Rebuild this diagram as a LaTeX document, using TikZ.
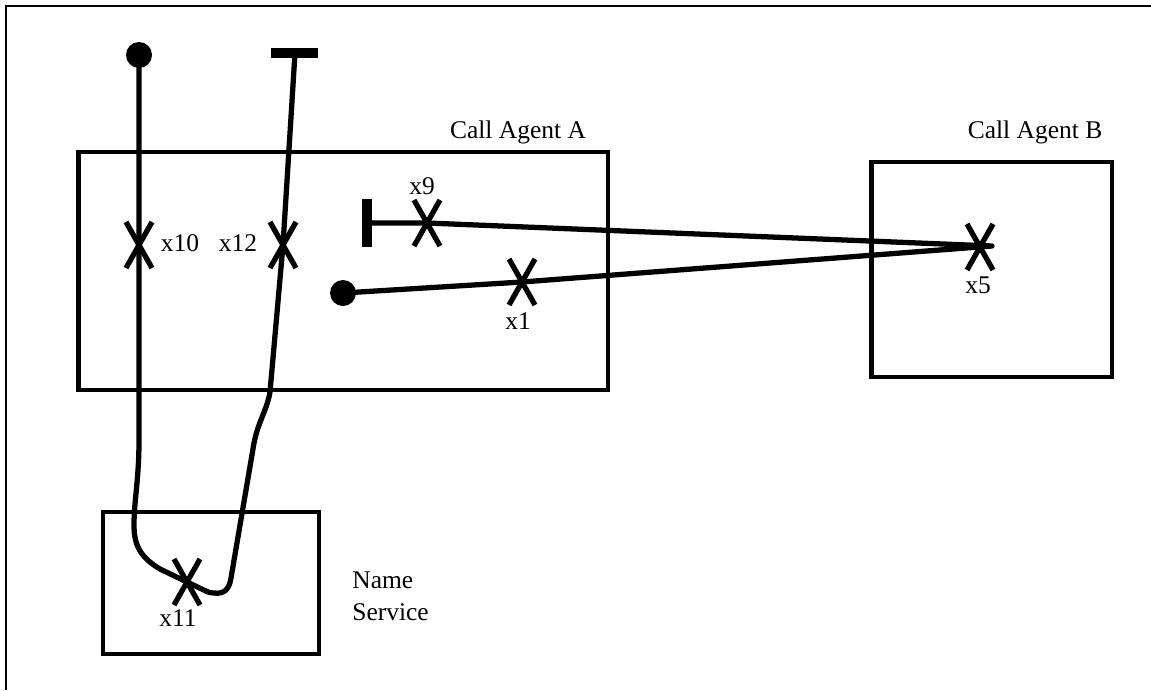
\documentclass[tikz,border=0pt]{standalone}
\usepackage{fontspec}
\setmainfont{Liberation Serif}
\usepackage{tikz}

\newcommand{\xcross}[1]{\draw[cross, shift={(#1)}] (-13,-23) -- (13,23) (13,-23) -- (-13,23);}

\begin{document}
\begin{tikzpicture}[x=0.02cm, y=-0.02cm,
    font=\fontsize{14.5}{18}\selectfont,
    box/.style={draw, line width=2.8pt, inner sep=0pt},
    wire/.style={line width=3pt, line join=round, line cap=round},
    cross/.style={line width=3pt},
    bar/.style={line width=0.2cm},
    lbl/.style={inner sep=0pt}]
    \useasboundingbox (0,0) rectangle (1151,690);
    \draw[line width=0.8pt] (6,690) -- (6,6) -- (1151,6);

    \node[box, minimum width=10.6cm, minimum height=4.76cm] (agentA) at (343,271) {};
    \node[box, minimum width=4.82cm, minimum height=4.3cm] (agentB) at (991.5,269.5) {};
    \node[box, minimum width=4.32cm, minimum height=2.84cm] (names) at (211,583) {};

    \node[lbl] (labA) at (518,132) {Call Agent A};
    \node[lbl] (labB) at (1035,132) {Call Agent B};
    \node[lbl, anchor=west, align=left] (labN) at (352,596) {Name\\Service};

    \coordinate (dotL) at (139,55);
    \coordinate (barT) at (295,53);
    \coordinate (barB) at (367,223);
    \coordinate (dotR) at (343,293);
    \coordinate (tip) at (992,246);
    \coordinate (x10) at (139,245);
    \coordinate (x12) at (283,245);
    \coordinate (x9) at (427,223);
    \coordinate (x1) at (522,282);
    \coordinate (x5) at (980,247);
    \coordinate (x11) at (187,582);

    \fill (dotL) circle (13);
    \fill (dotR) circle (13);
    \draw[bar] (271,53) -- (318,53);
    \draw[bar] (367,199) -- (367,247);

    \draw[wire] (dotL) -- (x10) -- (139,440)
        .. controls (139,480) and (134,500) .. (134,525)
        .. controls (134,545) and (140,557) .. (160,569) -- (x11) -- (208,592)
        .. controls (224,596) and (229,590) .. (231,578) -- (254,443)
        .. controls (258,422) and (267,410) .. (270,392) -- (x12) -- (barT);
    \draw[wire] (barB) -- (x9) -- (tip) -- (x1) -- (dotR);

    \xcross{x10}
    \xcross{x12}
    \xcross{x9}
    \xcross{x1}
    \xcross{x5}
    \xcross{x11}

    \node[lbl] (l10) at (180,243) {x10};
    \node[lbl] (l12) at (238,243) {x12};
    \node[lbl] (l9) at (422,186) {x9};
    \node[lbl] (l1) at (518,321) {x1};
    \node[lbl] (l5) at (978,285) {x5};
    \node[lbl] (l11) at (178,618) {x11};
\end{tikzpicture}
\end{document}
